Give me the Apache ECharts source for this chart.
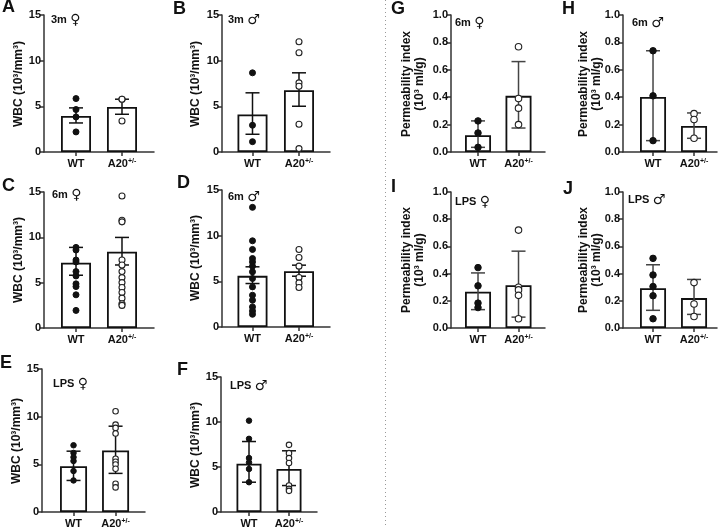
<!DOCTYPE html>
<html><head><meta charset="utf-8">
<script src="https://cdn.jsdelivr.net/npm/echarts@6/dist/echarts.min.js"></script>
<style>html,body{margin:0;padding:0;background:#fff}#c{width:721px;height:529px}</style>
</head><body><div id="c"></div>
<script>
// ---------- DATA ----------
const categories = ['WT', 'A20+/-'];
const wbcTicks = [0, 5, 10, 15];
const permTicks = [0.0, 0.2, 0.4, 0.6, 0.8, 1.0];

// A: 3m female WBC
const A_wt = [5.85, 4.65, 3.84, 2.2];
const A_a20 = [5.78, 5.78, 3.4];
const A_mean = [3.95, 4.94];
const A_lo = [3.18, 4.13];
const A_hi = [4.83, 5.78];
// B: 3m male WBC
const B_wt = [8.67, 2.93, 1.13];
const B_a20 = [12.07, 10.87, 7.57, 7.2, 3.04, 0.37];
const B_mean = [4.1, 6.77];
const B_lo = [1.94, 5.01];
const B_hi = [6.48, 8.67];
// C: 6m female WBC
const C_wt = [8.89, 8.6, 7.5, 7.28, 6.22, 5.74, 4.87, 4.57, 3.66, 1.94];
const C_a20 = [14.56, 11.89, 11.71, 7.5, 6.95, 6.22, 5.56, 5.01, 4.46, 3.91, 3.29, 2.67, 2.49];
const C_mean = [7.2, 8.42];
const C_lo = [5.82, 6.95];
const C_hi = [8.89, 9.99];
// D: 6m male WBC
const D_wt = [13.1, 9.44, 8.49, 7.5, 7.13, 6.66, 6.04, 5.31, 4.39, 3.48, 2.93, 2.2, 1.76, 1.39];
const D_a20 = [8.49, 7.61, 6.66, 5.42, 4.83, 4.32];
const D_mean = [5.6, 6.11];
const D_lo = [4.76, 5.56];
const D_hi = [6.59, 6.77];
// E: LPS female WBC
const E_wt = [7.0, 6.2, 5.75, 5.35, 4.3, 3.31];
const E_a20 = [10.57, 9.17, 8.82, 8.23, 5.58, 5.27, 4.99, 4.53, 2.96, 2.58];
const E_mean = [4.81, 6.45];
const E_lo = [3.31, 4.05];
const E_hi = [6.38, 9.0];
// F: LPS male WBC
const F_wt = [10.15, 8.13, 5.99, 5.51, 4.78, 3.31];
const F_a20 = [7.46, 6.54, 5.99, 5.44, 2.94, 2.57, 2.35];
const F_mean = [5.37, 4.78];
const F_lo = [3.31, 2.94];
const F_hi = [7.83, 6.8];
// G: 6m female permeability
const G_wt = [0.227, 0.139, 0.034];
const G_a20 = [0.768, 0.39, 0.32, 0.2];
const G_mean = [0.122, 0.41];
const G_lo = [0.034, 0.175];
const G_hi = [0.227, 0.66];
// H: 6m male permeability
const H_wt = [0.739, 0.41, 0.083];
const H_a20 = [0.28, 0.237, 0.10];
const H_mean = [0.402, 0.19];
const H_lo = [0.083, 0.10];
const H_hi = [0.739, 0.285];
// I: LPS female permeability
const I_wt = [0.444, 0.31, 0.183, 0.15];
const I_a20 = [0.72, 0.3, 0.28, 0.24, 0.068];
const I_mean = [0.266, 0.315];
const I_lo = [0.135, 0.08];
const I_hi = [0.405, 0.565];
// J: LPS male permeability
const J_wt = [0.512, 0.39, 0.305, 0.237, 0.068];
const J_a20 = [0.334, 0.176, 0.085];
const J_mean = [0.293, 0.22];
const J_lo = [0.13, 0.10];
const J_hi = [0.465, 0.357];

const panelLabels = ['A','B','C','D','E','F','G','H','I','J'];
const panelGroups = ['3m','3m','6m','6m','LPS','LPS','6m','6m','LPS','LPS'];
const panelSex = ['♀','♂','♀','♂','♀','♂','♀','♂','♀','♂'];
const wbcTitle = 'WBC (10³/mm³)';
const permTitle = 'Permeability index\n(10³ ml/g)';

// ---------- LAYOUT ----------
const FONT = '"Liberation Sans", Arial, sans-serif';
const layout = [
  {left:44, top:15, w:110, h:137, min:-0.696, max:1.696, bw:30, ss:6, tx:19, ty:84, lx:2, ly:7, nx:51, ny:20},
  {left:222, top:15, w:108, h:137, min:-0.656, max:1.667, bw:30, ss:6, tx:196, ty:84, lx:173, ly:9, nx:228, ny:20},
  {left:44, top:192, w:110, h:136, min:-0.696, max:1.696, bw:30, ss:6, tx:19, ty:260, lx:2, ly:186, nx:52, ny:195},
  {left:222, top:190, w:108, h:137, min:-0.656, max:1.667, bw:30, ss:6, tx:196, ty:258, lx:177, ly:183, nx:228, ny:197},
  {left:42, top:369, w:103, h:144, min:-0.75, max:1.70, bw:27, ss:5.5, tx:17, ty:441, lx:0, ly:363, nx:53, ny:384},
  {left:221, top:377, w:96, h:136, min:-0.7, max:1.7, bw:25, ss:5.5, tx:196, ty:445, lx:177, ly:370, nx:230, ny:386},
  {left:451, top:15, w:94, h:137, min:-0.667, max:1.654, bw:26, ss:6.5, tx:413, ty:84, lx:391, ly:9, nx:455, ny:23},
  {left:623, top:15, w:94, h:137, min:-0.732, max:1.56, bw:26, ss:6.5, tx:590, ty:84, lx:562, ly:9, nx:632, ny:23},
  {left:451, top:192, w:94, h:136, min:-0.667, max:1.654, bw:26, ss:6.5, tx:413, ty:260, lx:391, ly:187, nx:455, ny:202},
  {left:623, top:192, w:94, h:136, min:-0.732, max:1.56, bw:26, ss:6.5, tx:590, ty:260, lx:563, ly:189, nx:628, ny:200}
];
const data = [
  [A_wt,A_a20,A_mean,A_lo,A_hi],[B_wt,B_a20,B_mean,B_lo,B_hi],
  [C_wt,C_a20,C_mean,C_lo,C_hi],[D_wt,D_a20,D_mean,D_lo,D_hi],
  [E_wt,E_a20,E_mean,E_lo,E_hi],[F_wt,F_a20,F_mean,F_lo,F_hi],
  [G_wt,G_a20,G_mean,G_lo,G_hi],[H_wt,H_a20,H_mean,H_lo,H_hi],
  [I_wt,I_a20,I_mean,I_lo,I_hi],[J_wt,J_a20,J_mean,J_lo,J_hi]
];

function errRender(capHalf, color) {
  return function (params, api) {
    const x = api.value(0), lo = api.value(1), hi = api.value(2);
    const p1 = api.coord([x, lo]), p2 = api.coord([x, hi]);
    const st = {stroke: color, lineWidth: 1.5};
    return {type: 'group', children: [
      {type: 'line', shape: {x1: p1[0], y1: p1[1], x2: p2[0], y2: p2[1]}, style: st},
      {type: 'line', shape: {x1: p1[0]-capHalf, y1: p1[1], x2: p1[0]+capHalf, y2: p1[1]}, style: st},
      {type: 'line', shape: {x1: p2[0]-capHalf, y1: p2[1], x2: p2[0]+capHalf, y2: p2[1]}, style: st}
    ]};
  };
}

const grid = [], xAxis = [], yAxis = [], series = [], graphic = [];
layout.forEach((L, i) => {
  const perm = i >= 6;
  const [wt, a20, mean, lo, hi] = data[i];
  grid.push({left: L.left, top: L.top, width: L.w, height: L.h});
  xAxis.push({
    type: 'value', gridIndex: i, min: L.min, max: L.max,
    axisLine: {show: true, onZero: false, lineStyle: {color: '#333', width: 1.5}},
    axisTick: {show: true, customValues: [0, 1], length: 4, lineStyle: {color: '#333', width: 1.5}},
    axisLabel: {customValues: [0, 1], margin: 6,
      formatter: v => v < 0.5 ? '{n|' + categories[0] + '}' : '{n|A20}{s|+/-}',
      rich: {
        n: {fontSize: 11, fontWeight: 'bold', fontFamily: FONT, color: '#111'},
        s: {fontSize: 7, fontWeight: 'bold', fontFamily: FONT, color: '#111', verticalAlign: 'top'}
      }},
    splitLine: {show: false}
  });
  const ticks = perm ? permTicks : wbcTicks;
  yAxis.push({
    type: 'value', gridIndex: i, min: ticks[0], max: ticks[ticks.length-1],
    interval: ticks[1] - ticks[0],
    axisLine: {show: true, onZero: false, lineStyle: {color: '#333', width: 1.5}},
    axisTick: {show: true, length: 4, lineStyle: {color: '#333', width: 1.5}},
    axisLabel: {fontSize: 11, fontWeight: 'bold', fontFamily: FONT, color: '#111', margin: 3,
      formatter: v => perm ? v.toFixed(1) : String(v)},
    splitLine: {show: false}
  });
  series.push({
    type: 'bar', xAxisIndex: i, yAxisIndex: i, barWidth: L.bw, z: 2,
    data: mean.map((m, k) => [k, m]),
    itemStyle: {color: '#fff', borderColor: '#111', borderWidth: 1.8},
    animation: false
  });
  series.push({
    type: 'custom', xAxisIndex: i, yAxisIndex: i, z: 3,
    renderItem: errRender(7, perm ? '#444' : '#111'),
    encode: {x: 0, y: [1, 2]},
    data: lo.map((l, k) => [k, l, hi[k]]),
    animation: false
  });
  series.push({
    type: 'scatter', xAxisIndex: i, yAxisIndex: i, z: 4, symbolSize: L.ss,
    data: wt.map(v => [0, v]),
    itemStyle: {color: '#111', borderColor: '#111', borderWidth: 1, opacity: 1},
    animation: false
  });
  series.push({
    type: 'scatter', xAxisIndex: i, yAxisIndex: i, z: 4, symbolSize: L.ss,
    data: a20.map(v => [1, v]),
    itemStyle: {color: '#fff', borderColor: '#222', borderWidth: 1.1, opacity: 1},
    animation: false
  });
  // panel letter
  graphic.push({type: 'text', x: L.lx, y: L.ly,
    style: {text: panelLabels[i], fontSize: 18, fontWeight: 'bold', fontFamily: FONT, fill: '#111',
      align: 'left', verticalAlign: 'middle', textAlign: 'left', textVerticalAlign: 'middle'}});
  // annotation
  graphic.push({type: 'text', x: L.nx, y: L.ny,
    style: {text: '{a|' + panelGroups[i] + '} {b|' + panelSex[i] + '}',
      rich: {
        a: {fontSize: 11, fontWeight: 'bold', fontFamily: FONT, fill: '#111', color: '#111'},
        b: {fontSize: 14, fontWeight: 'bold', fontFamily: '"DejaVu Sans", sans-serif', fill: '#111', color: '#111'}
      },
      align: 'left', verticalAlign: 'middle', textAlign: 'left', textVerticalAlign: 'middle'}});
  // y title
  graphic.push({type: 'text', x: L.tx, y: L.ty, rotation: Math.PI / 2,
    style: {text: perm ? permTitle : wbcTitle, fontSize: 12, fontWeight: 'bold', fontFamily: FONT,
      fill: '#111', lineHeight: 13,
      align: 'center', verticalAlign: 'middle', textAlign: 'center', textVerticalAlign: 'middle'}});
});
graphic.push({type: 'line', shape: {x1: 385.5, y1: 0, x2: 385.5, y2: 525},
  style: {stroke: '#999', lineWidth: 1, lineDash: [1, 3]}});

const chart = echarts.init(document.getElementById('c'), null, {renderer: 'canvas'});
chart.setOption({animation: false, backgroundColor: '#fff', grid, xAxis, yAxis, series, graphic});
</script></body></html>
